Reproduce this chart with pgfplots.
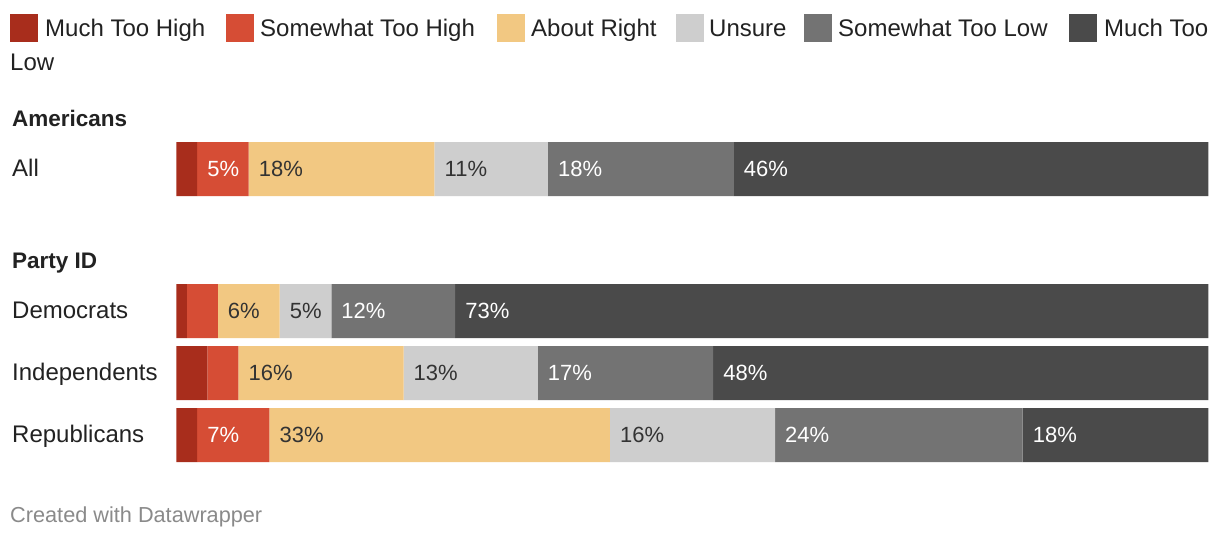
\documentclass[border=0pt]{standalone}
\usepackage{pgfplots}
\pgfplotsset{compat=1.18}
\usepackage{pgfplotstable}
\usepackage{fontspec}
\setmainfont{Liberation Sans}
\definecolor{cMTH}{HTML}{A82D1C}
\definecolor{cSTH}{HTML}{D64D35}
\definecolor{cAR}{HTML}{F2C882}
\definecolor{cUN}{HTML}{CECECE}
\definecolor{cSTL}{HTML}{737373}
\definecolor{cMTL}{HTML}{4A4A4A}
\definecolor{txt}{HTML}{222222}
\definecolor{seglab}{HTML}{333333}
\definecolor{foot}{HTML}{8A8A8A}
\pgfplotstableread{
y mth sth ar un stl mtl
169 2 5 18 11 18 46
311 1 3 6 5 12 73
373 3 3 16 13 17 48
435 2 7 33 16 24 18
}\data
\begin{document}
\begin{tikzpicture}[x=1pt,y=1pt,
  lab/.style={anchor=west,inner sep=0pt,text height=17pt,text depth=0pt,font=\fontsize{24}{28}\selectfont,text=txt},
  seg/.style={anchor=west,inner sep=0pt,text height=15.7pt,text depth=0pt,font=\fontsize{22}{26}\selectfont,xshift=10pt}]
\fill[white] (0,0) rectangle (1220,-540);
% legend
\foreach \c/\xs/\xt/\t in {cMTH/10/45/Much Too High, cSTH/226/260/Somewhat Too High, cAR/497/531/About Right, cUN/676/709/Unsure, cSTL/804/838/Somewhat Too Low, cMTL/1069/1104/Much Too}{
  \fill[\c] (\xs,-14) rectangle ++(28,-28);
  \node[lab] at (\xt,-28) {\t};
}
\node[lab] at (10,-62) {Low};
% headings
\node[lab,font=\fontsize{22.5}{27}\selectfont\bfseries,text height=16.1pt] at (12,-118) {Americans};
\node[lab,font=\fontsize{22.5}{27}\selectfont\bfseries,text height=16.1pt] at (12,-260) {Party ID};
\node[lab] at (12,-168) {All};
\node[lab] at (12,-310) {Democrats};
\node[lab] at (12,-372) {Independents};
\node[lab] at (12,-434) {Republicans};
\node[anchor=west,inner sep=0pt,text height=15.5pt,text depth=0pt,font=\fontsize{21.7}{26}\selectfont,text=foot] at (10,-515) {Created with Datawrapper};
\begin{axis}[at={(171,0)},anchor=origin,
  scale only axis,width=1032pt,height=540pt,
  xmin=0,xmax=100,ymin=0,ymax=540,y dir=reverse,
  hide axis,clip=false,
  xbar stacked,bar width=54pt,
  every axis plot/.append style={draw=none}]
\addplot[fill=cMTH] table[x=mth,y=y]{\data};
\addplot[fill=cSTH] table[x=sth,y=y]{\data};
\addplot[fill=cAR] table[x=ar,y=y]{\data};
\addplot[fill=cUN] table[x=un,y=y]{\data};
\addplot[fill=cSTL] table[x=stl,y=y]{\data};
\addplot[fill=cMTL] table[x=mtl,y=y]{\data};
% label anchors
\coordinate (a2) at (axis cs:2,169);
\coordinate (a3) at (axis cs:7,169);
\coordinate (a4) at (axis cs:25,169);
\coordinate (a5) at (axis cs:36,169);
\coordinate (a6) at (axis cs:54,169);
\coordinate (d3) at (axis cs:4,311);
\coordinate (d4) at (axis cs:10,311);
\coordinate (d5) at (axis cs:15,311);
\coordinate (d6) at (axis cs:27,311);
\coordinate (i3) at (axis cs:6,373);
\coordinate (i4) at (axis cs:22,373);
\coordinate (i5) at (axis cs:35,373);
\coordinate (i6) at (axis cs:52,373);
\coordinate (r2) at (axis cs:2,435);
\coordinate (r3) at (axis cs:9,435);
\coordinate (r4) at (axis cs:42,435);
\coordinate (r5) at (axis cs:58,435);
\coordinate (r6) at (axis cs:82,435);
\end{axis}
\node[seg,text=white] at (a2) {5\%};
\node[seg,text=seglab] at (a3) {18\%};
\node[seg,text=seglab] at (a4) {11\%};
\node[seg,text=white] at (a5) {18\%};
\node[seg,text=white] at (a6) {46\%};
\node[seg,text=seglab] at (d3) {6\%};
\node[seg,text=seglab] at (d4) {5\%};
\node[seg,text=white] at (d5) {12\%};
\node[seg,text=white] at (d6) {73\%};
\node[seg,text=seglab] at (i3) {16\%};
\node[seg,text=seglab] at (i4) {13\%};
\node[seg,text=white] at (i5) {17\%};
\node[seg,text=white] at (i6) {48\%};
\node[seg,text=white] at (r2) {7\%};
\node[seg,text=seglab] at (r3) {33\%};
\node[seg,text=seglab] at (r4) {16\%};
\node[seg,text=white] at (r5) {24\%};
\node[seg,text=white] at (r6) {18\%};
\end{tikzpicture}
\end{document}
